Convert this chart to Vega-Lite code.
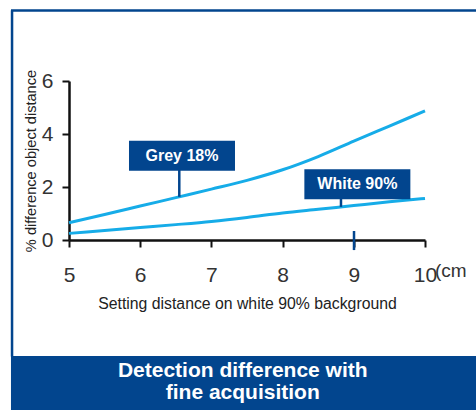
{
  "$schema": "https://vega.github.io/schema/vega-lite/v6.json",
  "width": 356,
  "height": 159,
  "autosize": {"type": "none"},
  "padding": {"left": 69, "top": 81, "right": 51, "bottom": 170},
  "background": "white",
  "config": {"view": {"stroke": null}, "font": "Liberation Sans"},
  "datasets": {
    "curves": [
      {"series": "Grey 18%", "distance": 5, "diff": 0.65},
      {"series": "Grey 18%", "distance": 5.5, "diff": 0.96},
      {"series": "Grey 18%", "distance": 6, "diff": 1.28},
      {"series": "Grey 18%", "distance": 6.5, "diff": 1.6},
      {"series": "Grey 18%", "distance": 7, "diff": 1.92},
      {"series": "Grey 18%", "distance": 7.5, "diff": 2.25},
      {"series": "Grey 18%", "distance": 8, "diff": 2.65},
      {"series": "Grey 18%", "distance": 8.5, "diff": 3.15},
      {"series": "Grey 18%", "distance": 9, "diff": 3.73},
      {"series": "Grey 18%", "distance": 9.5, "diff": 4.3},
      {"series": "Grey 18%", "distance": 10, "diff": 4.87},
      {"series": "White 90%", "distance": 5, "diff": 0.25},
      {"series": "White 90%", "distance": 5.5, "diff": 0.36},
      {"series": "White 90%", "distance": 6, "diff": 0.47},
      {"series": "White 90%", "distance": 6.5, "diff": 0.58},
      {"series": "White 90%", "distance": 7, "diff": 0.7},
      {"series": "White 90%", "distance": 7.5, "diff": 0.85},
      {"series": "White 90%", "distance": 8, "diff": 1.02},
      {"series": "White 90%", "distance": 8.5, "diff": 1.16},
      {"series": "White 90%", "distance": 9, "diff": 1.3},
      {"series": "White 90%", "distance": 9.5, "diff": 1.44},
      {"series": "White 90%", "distance": 10, "diff": 1.57}
    ],
    "labels": [
      {"label": "Grey 18%", "cx": 6.587, "cy": 3.175, "ax": 6.549, "ay": 1.63},
      {"label": "White 90%", "cx": 9.05, "cy": 2.1, "ax": 8.82, "ay": 1.25}
    ],
    "one": [{}]
  },
  "layer": [
    {
      "data": {"name": "one"},
      "mark": {"type": "rect", "fill": "#02458E", "stroke": null},
      "encoding": {
        "x": {"datum": 4.185, "type": "quantitative", "scale": {"domain": [5, 10], "nice": false, "zero": false}},
        "x2": {"datum": 10.9},
        "y": {"datum": -4.377, "type": "quantitative", "scale": {"domain": [0, 6], "nice": false, "zero": false}},
        "y2": {"datum": -6.7}
      }
    },
    {
      "data": {"name": "one"},
      "mark": {"type": "rule", "color": "#02458E", "strokeWidth": 2.5},
      "encoding": {
        "x": {"datum": 4.2, "type": "quantitative"},
        "y": {"datum": 8.66, "type": "quantitative"},
        "y2": {"datum": -4.4}
      }
    },
    {
      "data": {"name": "one"},
      "mark": {"type": "rule", "color": "#02458E", "strokeWidth": 2.5},
      "encoding": {
        "x": {"datum": 4.185, "type": "quantitative"},
        "x2": {"datum": 10.9},
        "y": {"datum": 8.66, "type": "quantitative"}
      }
    },
    {
      "data": {"name": "curves"},
      "mark": {"type": "line", "color": "#16ACE8", "strokeWidth": 3, "interpolate": "monotone"},
      "encoding": {
        "x": {
          "field": "distance", "type": "quantitative",
          "scale": {"domain": [5, 10], "nice": false, "zero": false},
          "axis": {
            "values": [5, 6, 7, 8, 9, 10], "format": "d",
            "title": "Setting distance on white 90% background",
            "titleFontSize": 15.8, "titleFontWeight": "normal", "titleColor": "#222", "titlePadding": 11,
            "labelFontSize": 21, "labelColor": "#333", "labelPadding": 17,
            "domainColor": "#111", "domainWidth": 2.5, "tickColor": "#111", "tickWidth": 2, "tickSize": 7,
            "grid": false, "labelFlush": false, "labelOverlap": false
          }
        },
        "y": {
          "field": "diff", "type": "quantitative",
          "scale": {"domain": [0, 6], "nice": false, "zero": false},
          "axis": {
            "values": [0, 2, 4, 6], "format": "d",
            "title": "% difference object distance",
            "titleFontSize": 14.6, "titleFontWeight": "normal", "titleColor": "#222", "titlePadding": 3,
            "labelFontSize": 21, "labelColor": "#333", "labelPadding": 9,
            "domainColor": "#111", "domainWidth": 2.5, "tickColor": "#111", "tickWidth": 2, "tickSize": 7,
            "grid": false, "labelFlush": false, "labelOverlap": false
          }
        },
        "detail": {"field": "series"}
      }
    },
    {
      "data": {"name": "labels"},
      "mark": {"type": "rule", "color": "#02458E", "strokeWidth": 2.5},
      "encoding": {
        "x": {"field": "ax", "type": "quantitative"},
        "y": {"field": "ay", "type": "quantitative"},
        "y2": {"field": "cy"}
      }
    },
    {
      "data": {"name": "labels"},
      "mark": {"type": "rect", "fill": "#02458E", "width": 106, "height": 30},
      "encoding": {
        "x": {"field": "cx", "type": "quantitative"},
        "y": {"field": "cy", "type": "quantitative"}
      }
    },
    {
      "data": {"name": "labels"},
      "mark": {"type": "text", "color": "white", "fontWeight": "bold", "fontSize": 16, "align": "center", "baseline": "middle"},
      "encoding": {
        "x": {"field": "cx", "type": "quantitative"},
        "y": {"field": "cy", "type": "quantitative"},
        "text": {"field": "label"}
      }
    },
    {
      "data": {"name": "one"},
      "mark": {"type": "rule", "color": "#02458E", "strokeWidth": 2.5},
      "encoding": {
        "x": {"datum": 9.003, "type": "quantitative"},
        "y": {"datum": 0.34, "type": "quantitative"},
        "y2": {"datum": -0.38}
      }
    },
    {
      "data": {"name": "one"},
      "mark": {"type": "text", "text": "(cm", "fontSize": 19, "color": "#333", "align": "left", "baseline": "alphabetic", "dx": 10, "dy": 37},
      "encoding": {
        "x": {"datum": 10, "type": "quantitative"},
        "y": {"datum": 0, "type": "quantitative"}
      }
    },
    {
      "data": {"name": "one"},
      "mark": {"type": "text", "text": ["Detection difference with", "fine acquisition"], "fontSize": 21, "fontWeight": "bold", "color": "white", "align": "center", "baseline": "alphabetic", "lineHeight": 22},
      "encoding": {
        "x": {"datum": 7.44, "type": "quantitative"},
        "y": {"datum": -5.16, "type": "quantitative"}
      }
    }
  ]
}
